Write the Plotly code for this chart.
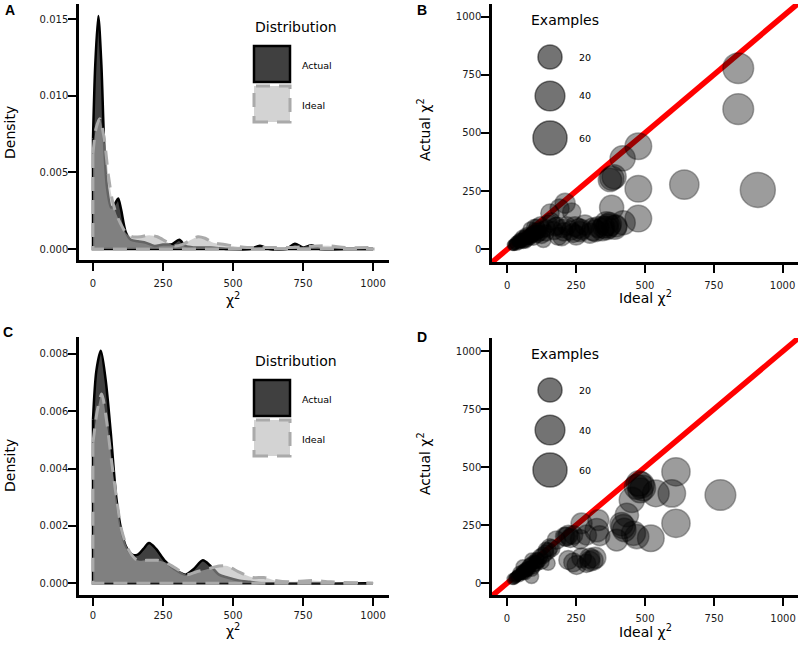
import plotly.graph_objects as go
import math

W, H = 800, 646
FONT = "DejaVu Sans"

# ---------------- data ----------------
# Panel A densities (chi^2 value, density)
a_actual_x = [0, 8, 19, 30, 40, 50, 65, 80, 90, 100, 117, 135, 160, 190, 220, 250, 280, 308, 330, 360,
              420, 480, 560, 596, 630, 690, 721, 750, 781, 810, 900, 1000]
a_actual_y = [0.0072, 0.0120, 0.0152, 0.0120, 0.0068, 0.0040, 0.0027, 0.0030, 0.0033, 0.0026, 0.0011,
              0.0006, 0.0005, 0.0004, 0.0002, 0.0003, 0.0003, 0.0006, 0.0002, 0.0001, 0.0001, 0.0,
              0.0, 0.00022, 0.0, 0.0, 0.00035, 0.0001, 0.00025, 0.0, 0.0, 0.0]
a_ideal_x = [0, 10, 24, 40, 55, 70, 85, 100, 120, 140, 170, 200, 230, 260, 290, 320, 350, 375, 400,
             430, 470, 500, 550, 600, 700, 800, 850, 900, 1000]
a_ideal_y = [0.0062, 0.0078, 0.0085, 0.0072, 0.0048, 0.0031, 0.0022, 0.0016, 0.0010, 0.0008, 0.0008,
             0.0009, 0.0008, 0.0005, 0.0002, 0.0003, 0.0006, 0.0008, 0.0007, 0.0004, 0.0003, 0.0002,
             0.0001, 0.0001, 0.0001, 0.0002, 0.0002, 0.0001, 0.0001]

# Panel C densities
c_actual_x = [0, 12, 28, 45, 63, 83, 100, 117, 140, 160, 180, 200, 225, 255, 290, 330, 360, 392, 420,
              450, 480, 520, 560, 600, 700, 800, 1000]
c_actual_y = [0.0057, 0.0074, 0.0081, 0.0071, 0.0053, 0.0030, 0.0019, 0.0013, 0.0010, 0.0010, 0.0012,
              0.0014, 0.0012, 0.0008, 0.0005, 0.0003, 0.0005, 0.0008, 0.0006, 0.0003, 0.0002, 0.0001,
              0.00005, 0.0, 0.0, 0.0, 0.0]
c_ideal_x = [0, 15, 31, 48, 67, 85, 101, 125, 158, 190, 230, 265, 300, 335, 370, 410, 450, 480, 520,
             570, 610, 650, 700, 780, 850, 1000]
c_ideal_y = [0.0049, 0.0060, 0.0066, 0.0057, 0.0042, 0.0029, 0.0019, 0.0012, 0.0008, 0.0008, 0.0008,
             0.0007, 0.0005, 0.0003, 0.0004, 0.0005, 0.0006, 0.0006, 0.0004, 0.0002, 0.0002, 0.0001,
             0.00005, 0.0001, 0.00005, 0.0]

# Panel B scatter: ideal chi^2, actual chi^2, number of examples
b_ideal = [839, 839, 910, 643, 476, 419, 476, 476, 388, 380, 373, 379, 421, 367, 361, 372, 312, 264,
           246, 210, 190, 155, 234, 216, 198, 175, 180, 143, 131, 107, 95, 70, 46, 34, 22, 58, 82, 119,
           300, 282, 260, 230, 200, 330, 350, 395,
           30, 40, 50, 60, 25, 45, 65, 75, 90, 100, 110, 55, 35, 120, 85, 150, 160,
           20, 28, 38, 48, 52, 62, 70, 78, 88, 95, 105, 115, 130, 140, 42, 68, 98, 125,
           170, 205, 240, 270, 320, 345, 360, 390, 250, 185]
b_actual = [778, 602, 255, 278, 443, 391, 260, 132, 312, 305, 298, 180, 114, 100, 92, 108, 86, 76,
            97, 198, 175, 155, 160, 100, 55, 97, 100, 90, 40, 97, 69, 54, 40, 26, 20, 34, 48, 69,
            69, 104, 90, 80, 90, 95, 95, 100,
            25, 32, 38, 48, 18, 25, 35, 55, 62, 80, 62, 52, 35, 105, 85, 110, 120,
            18, 22, 28, 34, 30, 42, 40, 50, 58, 50, 70, 80, 85, 70, 40, 62, 95, 60,
            80, 75, 70, 85, 80, 85, 110, 95, 60, 55]
b_examples = [44, 44, 65, 38, 28, 23, 28, 28, 20, 20, 18, 20, 20, 20, 18, 18, 16, 10,
              10, 10, 8, 7, 7, 7, 7, 7, 6, 5, 3, 3, 3, 3, 2, 2, 1, 2, 2, 3,
              10, 10, 9, 8, 7, 12, 14, 14,
              1, 1, 2, 2, 1, 1, 2, 2, 3, 3, 3, 2, 1, 4, 3, 5, 5,
              1, 1, 1, 1, 1, 2, 2, 2, 2, 3, 3, 3, 4, 4, 1, 2, 3, 4,
              6, 7, 8, 10, 14, 16, 20, 20, 9, 6]

# Panel D scatter
d_ideal = [773, 612, 612, 597, 539, 521, 486, 478, 492, 470, 483, 452, 470, 458, 434, 421, 415, 425,
           397, 325, 331, 336, 270, 288, 222, 215, 210, 230, 300, 312, 252, 222, 288, 161, 155, 141,
           125, 149, 107, 95, 70, 46, 34, 89, 58, 90, 179, 240, 265,
           30, 40, 50, 60, 25, 45, 75, 55, 65, 80, 100, 110, 120, 130,
           20, 28, 35, 42, 52, 58, 68, 78, 85, 95, 105, 115, 140, 150, 60, 90,
           240, 300, 320, 270]
d_actual = [380, 480, 258, 387, 387, 194, 423, 430, 410, 415, 400, 359, 201, 215, 294, 244, 255, 230,
            186, 229, 272, 205, 258, 208, 208, 200, 201, 195, 108, 100, 79, 100, 86, 151, 155, 144,
            93, 86, 100, 71, 57, 43, 29, 29, 71, 100, 186, 208, 190,
            25, 35, 40, 50, 18, 30, 65, 55, 45, 75, 85, 95, 115, 120,
            18, 22, 30, 38, 45, 50, 58, 62, 80, 90, 85, 100, 130, 140, 40, 60,
            90, 95, 110, 110]
d_examples = [44, 34, 34, 31, 28, 28, 26, 24, 24, 22, 22, 23, 20, 20, 18, 20, 18, 18,
              14, 18, 12, 10, 12, 10, 9, 8, 8, 8, 10, 10, 8, 8, 7, 5, 5, 3,
              3, 2, 3, 2, 2, 2, 1, 2, 2, 2, 7, 8, 9,
              1, 1, 1, 2, 1, 1, 2, 1, 2, 2, 3, 3, 3, 4,
              1, 1, 1, 1, 1, 1, 2, 2, 2, 2, 3, 3, 4, 4, 1, 2,
              8, 10, 12, 9]

legend_examples = [20, 40, 60]
identity_line = [-100, 1100]
x_ticks = [0, 250, 500, 750, 1000]
a_y_ticks = [0, 0.005, 0.010, 0.015]
c_y_ticks = [0, 0.002, 0.004, 0.006, 0.008]
bd_ticks = [0, 250, 500, 750, 1000]

# ---------------- styles ----------------
ACT_FILL = "rgba(0,0,0,0.75)"
IDEAL_FILL = "rgba(177,177,177,0.565)"
IDEAL_LINE = "#aaaaaa"
DASH = "14px,9px"
PT_FILL = "rgba(0,0,0,0.55)"
PT_LINE = "rgba(0,0,0,0.5)"
N_MIN, N_MAX = 1, 65


def diam(n):
    n = max(n, N_MIN)
    return 11 + 24 * math.sqrt((n - N_MIN) / (N_MAX - N_MIN))


def px(x):
    return x / W


def py(y):
    return 1 - y / H


fig = go.Figure()


def density(xs, ys, fill, lcolor, lwidth, dash, xa, ya):
    fig.add_trace(go.Scatter(x=xs, y=ys, mode="lines", line=dict(shape="spline", smoothing=0.8,
                  color=lcolor, width=lwidth, dash=dash), fill="tozeroy", fillcolor=fill,
                  xaxis=xa, yaxis=ya, showlegend=False, hoverinfo="skip"))
    fig.add_trace(go.Scatter(x=[xs[0], xs[0], xs[-1], xs[-1]], y=[ys[0], 0, 0, ys[-1]], mode="lines",
                  line=dict(color=lcolor, width=lwidth, dash=dash), xaxis=xa, yaxis=ya,
                  showlegend=False, hoverinfo="skip"))


density(a_actual_x, a_actual_y, ACT_FILL, "black", 2.5, "solid", "x", "y")
density(a_ideal_x, a_ideal_y, IDEAL_FILL, IDEAL_LINE, 3, DASH, "x", "y")
density(c_actual_x, c_actual_y, ACT_FILL, "black", 2.5, "solid", "x3", "y3")
density(c_ideal_x, c_ideal_y, IDEAL_FILL, IDEAL_LINE, 3, DASH, "x3", "y3")


def scatter(xs, ys, ns, xa, ya):
    fig.add_trace(go.Scatter(x=identity_line, y=identity_line, mode="lines",
                  line=dict(color="#ff0000", width=5.5), xaxis=xa, yaxis=ya, showlegend=False,
                  hoverinfo="skip"))
    fig.add_trace(go.Scatter(x=xs, y=ys, mode="markers",
                  marker=dict(size=[diam(n) for n in ns], color=PT_FILL,
                              line=dict(color=PT_LINE, width=1.5)),
                  xaxis=xa, yaxis=ya, showlegend=False, cliponaxis=False, hoverinfo="skip"))


scatter(b_ideal, b_actual, b_examples, "x2", "y2")
scatter(d_ideal, d_actual, d_examples, "x4", "y4")

axis_common = dict(showline=True, linecolor="black", linewidth=2.5, ticks="outside", ticklen=8,
                   tickwidth=2, tickcolor="black", showgrid=False, zeroline=False, mirror=False,
                   tickfont=dict(family=FONT, size=10, color="#1a1a1a"), fixedrange=True)
x_common = dict(axis_common, ticklabelstandoff=4)
x3_common = dict(axis_common, ticklabelstandoff=1)
y_common = dict(axis_common, ticklabelstandoff=-2)

fig.update_layout(
    width=W, height=H, margin=dict(l=0, r=0, t=0, b=0),
    paper_bgcolor="white", plot_bgcolor="white", showlegend=False,
    xaxis=dict(domain=[px(79), px(389)], range=[-50, 1057], tickvals=x_ticks, anchor="y", **x_common),
    yaxis=dict(domain=[py(260), py(4)], range=[-0.000717, 0.01598], tickvals=a_y_ticks,
               tickformat=".3f", anchor="x", **y_common),
    xaxis2=dict(domain=[px(492), px(798)], range=[-55.6, 1056], tickvals=bd_ticks, anchor="y2", **x_common),
    yaxis2=dict(domain=[py(262), py(4)], range=[-54.6, 1054], tickvals=bd_ticks, anchor="x2", **y_common),
    xaxis3=dict(domain=[px(79), px(389)], range=[-50, 1057], tickvals=x_ticks, anchor="y3", **x3_common),
    yaxis3=dict(domain=[py(595), py(337)], range=[-0.000408, 0.008582], tickvals=c_y_ticks,
                tickformat=".3f", anchor="x3", **y_common),
    xaxis4=dict(domain=[px(492), px(798)], range=[-54.3, 1054], tickvals=bd_ticks, anchor="y4", **x_common),
    yaxis4=dict(domain=[py(595), py(338)], range=[-50.4, 1056], tickvals=bd_ticks, anchor="x4", **y_common),
)

ann = []


def text(x, y, s, size, xanchor="center", yanchor="middle", angle=0, family=FONT):
    ann.append(dict(x=px(x), y=py(y), xref="paper", yref="paper", text=s, showarrow=False,
                    xanchor=xanchor, yanchor=yanchor, textangle=angle,
                    font=dict(family=family, size=size, color="black")))


# panel letters
for letter, (lx, ly) in {"A": (10, 10), "B": (422, 10), "C": (8, 332), "D": (422, 337)}.items():
    text(lx, ly, "<b>" + letter + "</b>", 14, family="Liberation Sans")

CHI = "\u03c7<sup>2</sup>"
# axis titles
text(10, 133, "Density", 14, angle=-90)
text(10, 466, "Density", 14, angle=-90)
text(233, 299, CHI, 14)
text(233, 630, CHI, 14)
text(424, 130, "Actual " + CHI, 14, angle=-90)
text(424, 464, "Actual " + CHI, 14, angle=-90)
text(645, 297, "Ideal " + CHI, 14)
text(645, 631, "Ideal " + CHI, 14)

shapes = []
# density legends
for top in (0, 334):
    text(253, 27 + top, "Distribution", 14, xanchor="left")
    shapes.append(dict(type="rect", xref="paper", yref="paper", x0=px(254), x1=px(290),
                       y0=py(82 + top), y1=py(46 + top), fillcolor=ACT_FILL,
                       line=dict(color="black", width=2.5)))
    shapes.append(dict(type="rect", xref="paper", yref="paper", x0=px(254), x1=px(290),
                       y0=py(122 + top), y1=py(86 + top), fillcolor=IDEAL_FILL,
                       line=dict(color=IDEAL_LINE, width=3, dash=DASH)))
    text(300, 65 + top, "Actual", 9.5, xanchor="left")
    text(300, 105 + top, "Ideal", 9.5, xanchor="left")

# examples legends
for top, ys in ((0, (57, 96, 138)), (334, (56, 96, 136))):
    text(529, 20 + top, "Examples", 14, xanchor="left")
    for n, yc in zip(legend_examples, ys):
        r = diam(n) / 2
        shapes.append(dict(type="circle", xref="paper", yref="paper", xsizemode="pixel",
                           ysizemode="pixel", xanchor=px(550), yanchor=py(yc + top),
                           x0=-r, x1=r, y0=-r, y1=r, fillcolor=PT_FILL,
                           line=dict(color=PT_LINE, width=1.5)))
        text(577, yc + top, str(n), 9.5, xanchor="left")

fig.update_layout(annotations=ann, shapes=shapes)
fig.write_html("out.html", config={"displayModeBar": False},
               post_script="document.body.style.margin='0';document.body.style.padding='0';"
                           "document.body.style.overflow='hidden';")
